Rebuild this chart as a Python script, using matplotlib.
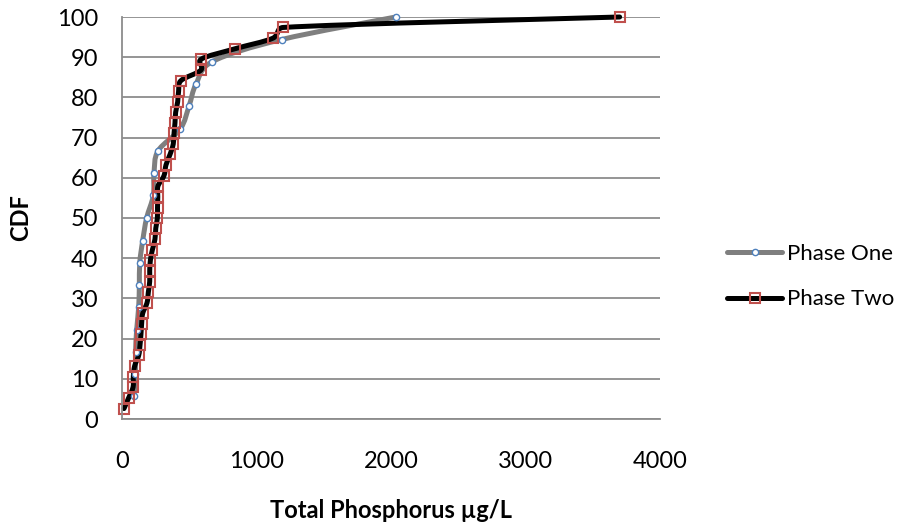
import numpy as np
import matplotlib.pyplot as plt
from matplotlib.path import Path
from matplotlib.patches import PathPatch
from matplotlib.lines import Line2D

plt.rcParams['font.family'] = ['Lato', 'DejaVu Sans']

# total phosphorus (ug/L), sorted, and the cumulative percent for each sample
phase_one_tp = [89, 100, 101, 109, 124, 129, 132, 154, 183, 233, 238, 268,
                434, 498, 550, 671, 1187, 2035]
phase_one_cdf = [5.6, 11.1, 16.7, 22.2, 27.8, 33.3, 38.9, 44.4, 50.0, 55.6,
                 61.1, 66.7, 72.2, 77.8, 83.3, 88.9, 94.4, 100.0]

phase_two_tp = [15, 50, 82, 84, 94, 124, 134, 141, 146, 154, 186, 196, 206,
                206, 211, 226, 245, 251, 263, 264, 266, 267, 312, 327, 357,
                381, 387, 394, 399, 414, 421, 439, 587, 588, 840, 1120, 1199,
                3700]
phase_two_cdf = [2.6, 5.3, 7.9, 10.5, 13.2, 15.8, 18.4, 21.1, 23.7, 26.3,
                 28.9, 31.6, 34.2, 36.8, 39.5, 42.1, 44.7, 47.4, 50.0, 52.6,
                 55.3, 57.9, 60.5, 63.2, 65.8, 68.4, 71.1, 73.7, 76.3, 78.9,
                 81.6, 84.2, 86.8, 89.5, 92.1, 94.7, 97.4, 100.0]

x_ticks = [0, 1000, 2000, 3000, 4000]
y_ticks = list(range(0, 101, 10))

AX_W, AX_H = 538, 402  # axes size in pixels


def smooth_path(xs, ys):
    # excel style smoothed line: cubic bezier segments through every point,
    # tangents worked out in pixel space and kept short on tiny segments
    scale = np.array([AX_W / 4000, AX_H / 100])
    p = np.column_stack([xs, ys]).astype(float) * scale
    n = len(p)
    verts = [p[0]]
    codes = [Path.MOVETO]

    def tangent(i, seg):
        prev = p[i - 1] if i > 0 else p[i]
        nxt = p[i + 1] if i + 1 < n else p[i]
        t = (nxt - prev) / 6
        lim = 0.5 * np.linalg.norm(seg)
        norm = np.linalg.norm(t)
        if norm > lim and norm > 0:
            t = t * lim / norm
        return t

    for i in range(n - 1):
        seg = p[i + 1] - p[i]
        c1 = p[i] + tangent(i, seg)
        c2 = p[i + 1] - tangent(i + 1, seg)
        verts += [c1, c2, p[i + 1]]
        codes += [Path.CURVE4] * 3
    return Path(np.array(verts) / scale, codes)


fig = plt.figure(figsize=(9.04, 5.29), dpi=100)
ax = fig.add_axes([122 / 904, 1 - 419 / 529, AX_W / 904, AX_H / 529])

series = [
    (phase_one_tp, phase_one_cdf, '#7f7f7f', 'o', 4.5, 'white', '#4f81bd', 1.0, 'Phase One'),
    (phase_two_tp, phase_two_cdf, 'black', 's', 7, 'none', '#c0504d', 1.5, 'Phase Two'),
]
handles = []
for xs, ys, lc, mk, ms, mfc, mec, mew, name in series:
    ax.add_patch(PathPatch(smooth_path(xs, ys), fill=False, edgecolor=lc,
                           lw=3.6, capstyle='round', joinstyle='round',
                           clip_on=False))
    ax.plot(xs, ys, linestyle='none', marker=mk, ms=ms, mfc=mfc, mec=mec,
            mew=mew, clip_on=False)
    handles.append(Line2D([], [], color=lc, lw=3.6, solid_capstyle='round',
                          marker=mk, ms=ms, mfc=mfc, mec=mec, mew=mew,
                          label=name))

ax.set_xlim(0, 4000)
ax.set_ylim(0, 100)
ax.set_xticks(x_ticks)
ax.set_yticks(y_ticks)
ax.yaxis.grid(True, color='#8c8c8c', lw=1.3)
ax.set_axisbelow(True)
for s in ['top', 'right']:
    ax.spines[s].set_visible(False)
for s in ['left', 'bottom']:
    ax.spines[s].set_color('#8c8c8c')
    ax.spines[s].set_linewidth(1.3)
ax.tick_params(axis='x', length=0, pad=23, labelsize=17)
ax.tick_params(axis='y', length=0, pad=17, labelsize=17)

ax.set_xlabel('Total Phosphorus µg/L', fontsize=17, fontweight='bold')
ax.xaxis.set_label_coords(0.5, -0.2)
fig.text(21 / 904, 1 - 218 / 529, 'CDF', rotation=90, ha='center',
         va='center', fontsize=17, fontweight='bold')

ax.legend(handles=handles, loc='center left', bbox_to_anchor=(0.804, 0.477),
          bbox_transform=fig.transFigure, frameon=False, fontsize=16,
          handlelength=2.5, handletextpad=0.2, labelspacing=1.15,
          borderpad=0, borderaxespad=0, numpoints=1)

fig.savefig('out.png', dpi=100)
